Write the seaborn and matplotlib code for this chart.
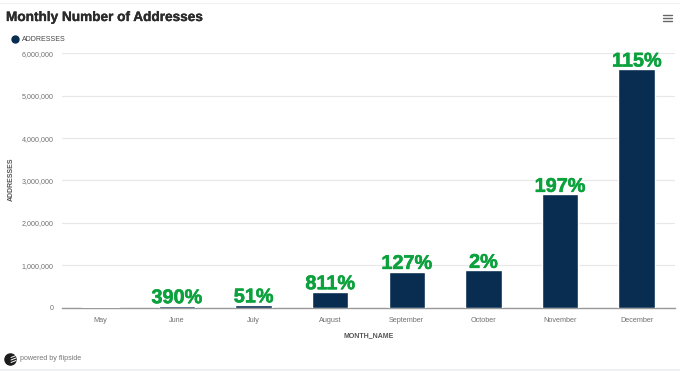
import matplotlib
matplotlib.use("Agg")
import matplotlib.pyplot as plt
import matplotlib.patheffects as pe
from matplotlib.patches import Rectangle
import pandas as pd
import seaborn as sns

months = ["May", "June", "July", "August", "September", "October", "November", "December"]
addresses = [6000, 40000, 60000, 370000, 850000, 875000, 2670000, 5630000]
growth_labels = ["", "390%", "51%", "811%", "127%", "2%", "197%", "115%"]
y_ticks = [0, 1000000, 2000000, 3000000, 4000000, 5000000, 6000000]

NAVY = "#082d51"
GREEN = "#0ba13c"
W, H = 680, 371

sns.set_theme(style="white")
plt.rcParams["font.family"] = ["Liberation Sans", "DejaVu Sans"]

df = pd.DataFrame({"MONTH_NAME": months, "ADDRESSES": addresses})

fig = plt.figure(figsize=(W / 100, H / 100), dpi=100, facecolor="white")
ax = fig.add_axes([62 / W, 1 - 307.5 / H, 613 / W, 254 / H])

sns.barplot(data=df, x="MONTH_NAME", y="ADDRESSES", color=NAVY, width=0.475,
            saturation=1, ax=ax, zorder=3)

ax.set_xlim(-0.5, 7.5)
ax.set_ylim(0, 6000000)
ax.set_yticks(y_ticks)
ax.set_yticklabels([f"{v:,}" for v in y_ticks])
ax.tick_params(axis="y", length=0, labelsize=5.1, labelcolor="#707070", pad=6)
ax.tick_params(axis="x", length=0, labelsize=5.2, labelcolor="#707070", pad=6.5)
ax.grid(axis="y", color="#e8e8e8", lw=0.9, zorder=0)
ax.grid(axis="x", visible=False)
for s in ["top", "left", "right"]:
    ax.spines[s].set_visible(False)
ax.spines["bottom"].set_color("#999999")
ax.spines["bottom"].set_linewidth(1.0)
ax.set_axisbelow(True)

ax.set_xlabel("MONTH_NAME", fontsize=5.0, fontweight="bold", color="#555555", labelpad=6.5)
ax.set_ylabel("ADDRESSES", fontsize=5.0, fontweight="bold", color="#555555")
ax.yaxis.set_label_coords((15 - 62) / 613, (307.5 - 179) / 254)

for i, (v, lab) in enumerate(zip(addresses, growth_labels)):
    if lab:
        ax.annotate(lab, (i, v), xytext=(0, -1), textcoords="offset points", ha="center",
                    va="bottom", fontsize=14.3, fontweight="bold", color=GREEN, zorder=5,
                    annotation_clip=False,
                    path_effects=[pe.withStroke(linewidth=0.4, foreground=GREEN)])

def fx(x):
    return x / W

def fy(y):
    return 1 - y / H

fig.text(fx(6), fy(17), "Monthly Number of Addresses", fontsize=9.8, fontweight="bold",
         color="#2b2b2b", va="center", ha="left",
         path_effects=[pe.withStroke(linewidth=0.25, foreground="#2b2b2b")])
fig.text(fx(22), fy(39.2), "ADDRESSES", fontsize=5.0, color="#444444", va="center", ha="left")

# legend marker, menu icon, logo and window strips
fig.add_artist(plt.Line2D([fx(14.5)], [fy(38.5)], marker="o", ms=5.0, color=NAVY, lw=0))
for y in (14.5, 17.5, 20.5):
    fig.add_artist(plt.Line2D([fx(663), fx(672)], [fy(y), fy(y)], color="#666666", lw=1.0))
fig.add_artist(plt.Line2D([fx(10)], [fy(358.5)], marker="o", ms=8.0, color="#1c1c1c", lw=0))
for y in (356.5, 359, 361.5):
    fig.add_artist(plt.Line2D([fx(11), fx(16)], [fy(y + 1), fy(y - 1)], color="white", lw=0.7))
fig.text(fx(20), fy(358.5), "powered by flipside", fontsize=5.1, color="#777777",
         va="center", ha="left")
fig.add_artist(Rectangle((0, fy(4)), 1, 1.3 / H, transform=fig.transFigure, color="#f1f1f1", lw=0))
fig.add_artist(Rectangle((0, 0), 1, 2.5 / H, transform=fig.transFigure, color="#eef1f3", lw=0))

fig.savefig("out.png", dpi=100, facecolor="white")
